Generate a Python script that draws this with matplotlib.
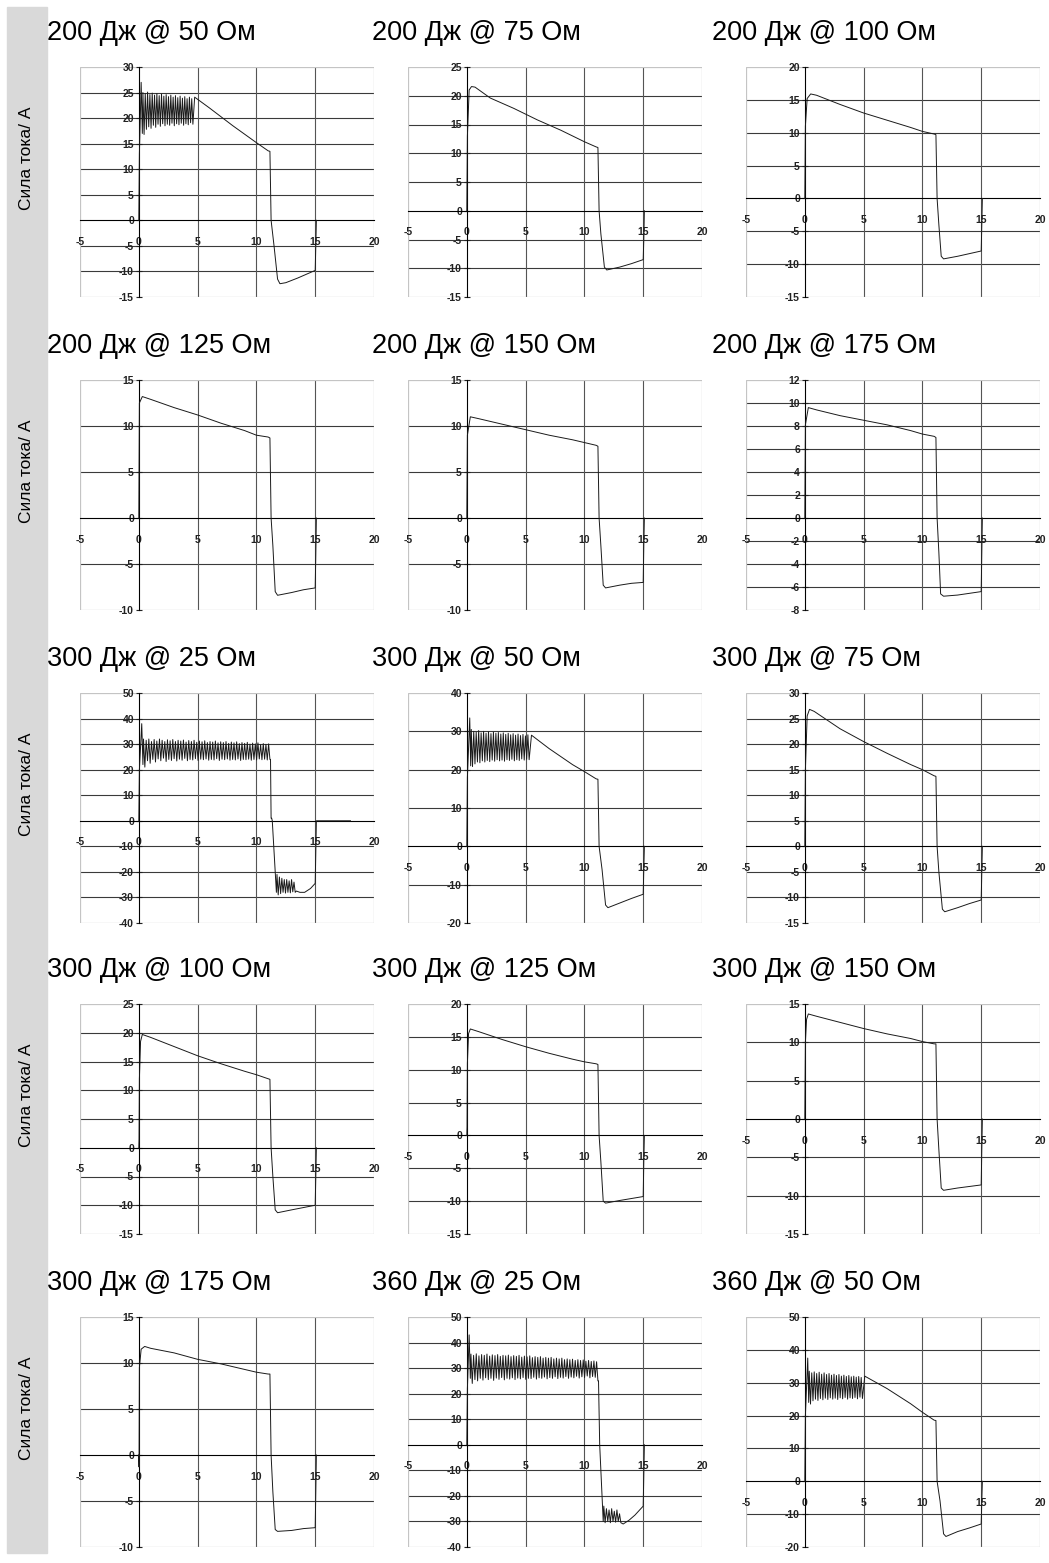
import numpy as np
import matplotlib
matplotlib.use('Agg')
import matplotlib.pyplot as plt
from matplotlib.patches import Rectangle

plt.rcParams['font.family'] = ['Liberation Sans', 'DejaVu Sans']

# ---------- данные (время, мс / сила тока, А) ----------
titles = [
    '200 Дж @ 50 Ом', '200 Дж @ 75 Ом', '200 Дж @ 100 Ом',
    '200 Дж @ 125 Ом', '200 Дж @ 150 Ом', '200 Дж @ 175 Ом',
    '300 Дж @ 25 Ом', '300 Дж @ 50 Ом', '300 Дж @ 75 Ом',
    '300 Дж @ 100 Ом', '300 Дж @ 125 Ом', '300 Дж @ 150 Ом',
    '300 Дж @ 175 Ом', '360 Дж @ 25 Ом', '360 Дж @ 50 Ом',
]
ylims = [
    (-15, 30, 5), (-15, 25, 5), (-15, 20, 5),
    (-10, 15, 5), (-10, 15, 5), (-8, 12, 2),
    (-40, 50, 10), (-20, 40, 10), (-15, 30, 5),
    (-15, 25, 5), (-15, 20, 5), (-15, 15, 5),
    (-10, 15, 5), (-40, 50, 10), (-20, 50, 10),
]
x_ticks = [-5, 0, 5, 10, 15, 20]
ylabel = 'Сила тока/ А'

# гладкие участки: ключевые точки
t_200_75 = [0, 0.05, 0.2, 0.4, 0.7, 2, 4, 6, 8, 10, 11.0, 11.15, 11.25, 11.4, 11.7, 11.9, 13, 14, 15.0, 15.05, 15.1]
i_200_75 = [0, 13, 21, 21.6, 21.5, 19.6, 17.8, 15.8, 14, 12, 11.1, 11, 0, -4, -9.8, -10.3, -9.8, -9.2, -8.5, -5, 0]

t_200_100 = [0, 0.05, 0.2, 0.5, 1, 3, 5, 7, 9, 10, 11.0, 11.15, 11.25, 11.4, 11.6, 11.8, 13, 14, 15.0, 15.05, 15.1]
i_200_100 = [0, 11, 15.2, 15.9, 15.7, 14.3, 13, 11.9, 10.8, 10.2, 9.8, 9.7, 0, -4, -8.8, -9.2, -8.8, -8.4, -8, -4, 0]

t_200_125 = [0, 0.05, 0.3, 1, 3, 5, 7, 9, 10, 11.0, 11.15, 11.25, 11.4, 11.6, 11.8, 13, 14, 15.0, 15.05, 15.1]
i_200_125 = [0, 12.5, 13.2, 12.9, 12, 11.2, 10.3, 9.5, 9, 8.8, 8.7, 0, -3, -8, -8.4, -8.1, -7.8, -7.6, -4, 0]

t_200_150 = [0, 0.05, 0.3, 1, 3, 5, 7, 9, 10, 11.0, 11.15, 11.25, 11.4, 11.6, 11.8, 13, 14, 15.0, 15.05, 15.1]
i_200_150 = [0, 9, 11, 10.8, 10.2, 9.6, 9, 8.5, 8.2, 7.9, 7.8, 0, -3, -7.3, -7.6, -7.3, -7.1, -7, -3, 0]

t_200_175 = [0, 0.05, 0.3, 1, 3, 5, 7, 9, 10, 11.0, 11.15, 11.25, 11.4, 11.55, 11.8, 13, 14, 15.0, 15.05, 15.1]
i_200_175 = [0, 8.1, 9.6, 9.4, 8.9, 8.5, 8.1, 7.6, 7.3, 7.1, 7.0, 0, -3, -6.6, -6.8, -6.7, -6.55, -6.4, -3, 0]

t_300_75 = [0, 0.05, 0.2, 0.4, 0.8, 3, 5, 7, 9, 10, 11.0, 11.15, 11.25, 11.4, 11.7, 11.9, 13, 14, 15.0, 15.05, 15.1]
i_300_75 = [0, 15, 25.5, 26.8, 26.4, 23, 20.5, 18.2, 16, 15, 13.8, 13.7, 0, -5, -12.3, -12.8, -12, -11.2, -10.5, -5, 0]

t_300_100 = [0, 0.02, 0.05, 0.15, 0.3, 1, 3, 5, 7, 9, 10, 11.0, 11.15, 11.25, 11.4, 11.6, 11.8, 13, 14, 15.0, 15.05, 15.1]
i_300_100 = [0, 1.5, 12, 18.5, 19.7, 19.2, 17.6, 16, 14.6, 13.3, 12.7, 12, 11.9, 0, -5, -10.8, -11.3, -10.8, -10.4, -10, -5, 0]

t_300_125 = [0, 0.02, 0.05, 0.15, 0.3, 1, 3, 5, 7, 9, 10, 11.0, 11.15, 11.25, 11.4, 11.6, 11.8, 13, 14, 15.0, 15.05, 15.1]
i_300_125 = [0, 1.3, 11, 15.5, 16.2, 15.8, 14.6, 13.5, 12.5, 11.6, 11.2, 10.9, 10.8, 0, -4, -10, -10.3, -9.9, -9.6, -9.3, -4, 0]

t_300_150 = [0, 0.05, 0.15, 0.3, 1, 3, 5, 7, 9, 10, 11.0, 11.15, 11.25, 11.4, 11.6, 11.8, 13, 14, 15.0, 15.05, 15.1]
i_300_150 = [0, 10, 13, 13.7, 13.4, 12.6, 11.8, 11.1, 10.5, 10.1, 9.8, 9.8, 0, -4, -9, -9.3, -9, -8.8, -8.6, -4, 0]

t_300_175 = [0, 0.02, 0.05, 0.2, 0.5, 1, 3, 5, 7, 9, 10, 11.0, 11.15, 11.25, 11.4, 11.6, 11.8, 13, 14, 15.0, 15.05, 15.1]
i_300_175 = [0, -1.3, 9.5, 11.5, 11.8, 11.6, 11.1, 10.4, 9.9, 9.3, 9, 8.8, 8.8, 0, -4, -8.1, -8.3, -8.2, -8.0, -7.9, -4, 0]

# участки с колебаниями: вершины и впадины
hi_200_50 = [25, 24.8, 25.1, 24.6, 24.9, 24.5, 24.8, 24.4, 24.7, 24.3, 24.6, 24.2, 24.5, 24.1, 24.4, 24, 24.3, 23.9, 24.2, 23.8, 24.1, 23.8]
lo_200_50 = [16.8, 17.8, 18.3, 18, 18.6, 18.2, 18.8, 18.4, 18.9, 18.5, 18.8, 18.6, 19, 18.5, 18.9, 18.7, 19, 18.6, 18.9, 18.7, 19.1, 18.8]
t_200_50_a = [0, 0.05, 0.2, 0.3]
i_200_50_a = [0, 13, 27, 17]
t_200_50_b = [4.75, 6, 8, 10, 11.0, 11.15, 11.25, 11.5, 11.8, 12.0, 12.5, 13.5, 14.5, 15.0, 15.05, 15.1]
i_200_50_b = [24.1, 22, 18.5, 15.2, 13.6, 13.5, 0, -5, -11.5, -12.4, -12.2, -11.3, -10.3, -9.8, -5, 0]

hi_300_25 = [32, 31.5, 32, 31, 31.8, 31.2, 32, 31.5, 31, 31.7, 31.3, 31.8, 31, 31.5, 31.2, 31.6,
             30.8, 31.4, 31, 31.5, 30.7, 31.2, 30.9, 31.3, 30.6, 31, 30.8, 31.2, 30.5, 30.9, 30.6, 31,
             30.3, 30.8, 30.5, 30.9, 30.2, 30.6, 30.3, 30.7, 30, 30.4, 30.1, 30.5, 29.8, 30.2, 29.9, 30.1]
lo_300_25 = [21, 23.5, 22.5, 24, 23, 24.2, 23.5, 24.5, 23.2, 24, 23.6, 24.3, 23.4, 24.1, 23.7, 24.4,
             23.5, 24, 23.8, 24.3, 23.6, 24.1, 23.9, 24.2, 23.7, 24, 23.8, 24.3, 23.6, 24.1, 23.9, 24.2,
             23.7, 24, 23.8, 24.2, 23.6, 24, 23.9, 24.1, 23.7, 24, 23.8, 24.2, 23.9, 24.1, 23.8, 24]
nhi_300_25 = [-21, -22, -22.5, -23, -23, -23.5, -23, -24]
nlo_300_25 = [-29, -28.5, -28, -28.3, -28, -28.2, -27.8, -28]
t_300_25_a = [0, 0.05, 0.25, 0.35]
i_300_25_a = [0, 20, 38, 22]
t_300_25_b = [11.2, 11.25, 11.3, 11.35, 11.7]
i_300_25_b = [24, 1, 1, 0, -28]
t_300_25_c = [13.4, 13.7, 14.1, 14.6, 15.0, 15.05, 15.1, 18]
i_300_25_c = [-27.5, -28, -28, -26.5, -24.5, -12, 0, 0]

hi_300_50 = [30.5, 30, 29.8, 30.2, 29.6, 30, 29.5, 29.9, 29.4, 29.8, 29.5, 29.7, 29.3, 29.6, 29.2, 29.5, 29.1, 29.4, 29, 29.3, 28.9, 29.2, 28.8, 29.1]
lo_300_50 = [20.8, 21.5, 22, 21.8, 22.3, 22, 22.4, 22.1, 22.5, 22.2, 22.6, 22.3, 22.5, 22.2, 22.6, 22.4, 22.7, 22.3, 22.6, 22.4, 22.8, 22.5, 22.7, 22.6]
t_300_50_a = [0, 0.05, 0.25, 0.33]
i_300_50_a = [0, 18, 33.5, 21]
t_300_50_b = [5.5, 7, 9, 10, 11.0, 11.15, 11.25, 11.5, 11.8, 12.0, 13, 14, 15.0, 15.05, 15.1]
i_300_50_b = [29, 25.5, 21.3, 19.5, 17.6, 17.5, 0, -6, -15.3, -16, -14.8, -13.6, -12.5, -6, 0]

hi_360_25 = [35.5, 35, 35.6, 34.8, 35.3, 35, 35.5, 34.7, 35.2, 34.9, 35.3, 34.6, 35, 34.8, 35.1, 34.5,
             34.9, 34.6, 35, 34.3, 34.7, 34.4, 34.8, 34.1, 34.5, 34.2, 34.5, 33.9, 34.2, 33.9, 34.2, 33.6,
             33.9, 33.6, 33.9, 33.3, 33.6, 33.3, 33.5, 33, 33.3, 33, 33.2, 32.7, 33, 32.6, 32.8, 32.5]
lo_360_25 = [24, 25.5, 25, 26, 25.3, 26.2, 25.5, 26, 25.2, 26.1, 25.6, 26.3, 25.4, 26, 25.7, 26.2,
             25.5, 26.1, 25.8, 26.3, 25.6, 26, 25.9, 26.4, 25.7, 26.2, 26, 26.5, 25.8, 26.3, 26, 26.6,
             25.9, 26.4, 26.1, 26.7, 26, 26.5, 26.2, 26.8, 26.1, 26.6, 26.3, 26.9, 26.2, 26.7, 26.4, 25]
nhi_360_25 = [-24, -25, -25.5, -25, -26, -25.5, -27]
nlo_360_25 = [-30.5, -30, -30.5, -30, -30.3, -30, -30.5]
t_360_25_a = [0, 0.05, 0.2, 0.3]
i_360_25_a = [0, 22, 43, 26]
t_360_25_b = [11.2, 11.3, 11.6]
i_360_25_b = [25, 0, -30]
t_360_25_c = [13.3, 13.8, 14.3, 15.0, 15.05, 15.1]
i_360_25_c = [-31, -29.5, -27.5, -24, -12, 0]

hi_360_50 = [33.5, 33, 33.3, 32.8, 33.2, 32.6, 33, 32.5, 32.8, 32.3, 32.6, 32.2, 32.5, 32, 32.3, 31.9, 32.2, 31.8, 32, 31.7, 31.9, 31.6]
lo_360_50 = [23.5, 24.5, 25, 24.6, 25.2, 24.8, 25.3, 24.9, 25.4, 25, 25.3, 24.9, 25.4, 25.1, 25.5, 25, 25.4, 25.2, 25.5, 25.1, 25.6, 25.2]
t_360_50_a = [0, 0.05, 0.25, 0.33]
i_360_50_a = [0, 20, 37.5, 24]
t_360_50_b = [5.1, 7, 9, 10, 11.0, 11.15, 11.25, 11.5, 11.8, 12.0, 13, 14, 15.0, 15.05, 15.1]
i_360_50_b = [32, 28.2, 23.6, 21, 18.6, 18.5, 0, -6, -16, -16.8, -15.3, -14.2, -13, -6, 0]


def ringing(t0, t1, hi, lo):
    """чередует вершины и впадины на равномерной сетке отсчётов"""
    vals = np.ravel(np.column_stack([hi, lo]))
    return np.linspace(t0, t1, len(vals)), vals


def join(*parts):
    t = np.concatenate([np.asarray(p[0], float) for p in parts])
    v = np.concatenate([np.asarray(p[1], float) for p in parts])
    return t, v


curves = [
    join((t_200_50_a, i_200_50_a), ringing(0.35, 4.6, hi_200_50, lo_200_50), (t_200_50_b, i_200_50_b)),
    (t_200_75, i_200_75),
    (t_200_100, i_200_100),
    (t_200_125, i_200_125),
    (t_200_150, i_200_150),
    (t_200_175, i_200_175),
    join((t_300_25_a, i_300_25_a), ringing(0.4, 11.15, hi_300_25, lo_300_25),
         (t_300_25_b, i_300_25_b), ringing(11.75, 13.3, nhi_300_25, nlo_300_25), (t_300_25_c, i_300_25_c)),
    join((t_300_50_a, i_300_50_a), ringing(0.38, 5.3, hi_300_50, lo_300_50), (t_300_50_b, i_300_50_b)),
    (t_300_75, i_300_75),
    (t_300_100, i_300_100),
    (t_300_125, i_300_125),
    (t_300_150, i_300_150),
    (t_300_175, i_300_175),
    join((t_360_25_a, i_360_25_a), ringing(0.35, 11.15, hi_360_25, lo_360_25),
         (t_360_25_b, i_360_25_b), ringing(11.65, 13.1, nhi_360_25, nlo_360_25), (t_360_25_c, i_360_25_c)),
    join((t_360_50_a, i_360_50_a), ringing(0.38, 4.9, hi_360_50, lo_360_50), (t_360_50_b, i_360_50_b)),
]

# ---------- разметка (в пикселях) ----------
W, H = 1049, 1563
fig = plt.figure(figsize=(W / 100, H / 100), dpi=100)

col_left = [80, 408, 746]
title_left = [47, 372, 712]
row_top = [67, 380, 693, 1004, 1317]
box_w, box_h = 294, 230

# серая полоса слева
fig.patches.append(Rectangle((7 / W, 1 - 1553 / H), 40 / W, 1546 / H,
                             transform=fig.transFigure, color='#d9d9d9', zorder=0))

for k, (title, (y0, y1, ystep), (t, cur)) in enumerate(zip(titles, ylims, curves)):
    r, c = divmod(k, 3)
    ax = fig.add_axes([col_left[c] / W, 1 - (row_top[r] + box_h) / H, box_w / W, box_h / H])
    ax.set_xlim(-5, 20)
    ax.set_ylim(y0, y1)
    yt = np.arange(y0, y1 + ystep / 2, ystep)

    # сетка
    for yv in yt[1:-1]:
        if yv != 0:
            ax.axhline(yv, color='#3a3a3a', lw=0.8, zorder=1)
    for xv in [5, 10, 15]:
        ax.axvline(xv, color='#555555', lw=0.8, zorder=1)
    ax.add_patch(Rectangle((0, 0), 1, 1, transform=ax.transAxes, fill=False,
                           ec='#c4c4c4', lw=0.9, zorder=1))

    ax.plot(t, cur, color='#1a1a1a', lw=0.7, zorder=3)

    for side in ['top', 'right']:
        ax.spines[side].set_visible(False)
    ax.spines['left'].set_position(('data', 0))
    ax.spines['bottom'].set_position(('data', 0))
    for side in ['left', 'bottom']:
        ax.spines[side].set_color('black')
        ax.spines[side].set_linewidth(0.8)
        ax.spines[side].set_zorder(2)

    ax.set_yticks(yt)
    ax.set_yticklabels([f'{v:g}' for v in yt])
    ax.set_xticks(x_ticks)
    ax.set_xticklabels([f'{v:g}' for v in x_ticks])
    ax.tick_params(axis='y', direction='inout', length=5, width=0.8, pad=1,
                   labelsize=7.5, colors='#222222')
    ax.tick_params(axis='x', direction='inout', length=0, pad=12,
                   labelsize=7.5, colors='#222222')
    for lab in ax.get_xticklabels() + ax.get_yticklabels():
        lab.set_fontweight('bold')
    ax.patch.set_alpha(0)

    fig.text(title_left[c] / W, 1 - (row_top[r] - 34) / H, title,
             fontsize=19.5, va='center', ha='left')
    if c == 0:
        fig.text(27 / W, 1 - (row_top[r] + 91) / H, ylabel, rotation=90,
                 fontsize=12.5, va='center', ha='center')

fig.savefig('out.png', dpi=100, facecolor='white')
